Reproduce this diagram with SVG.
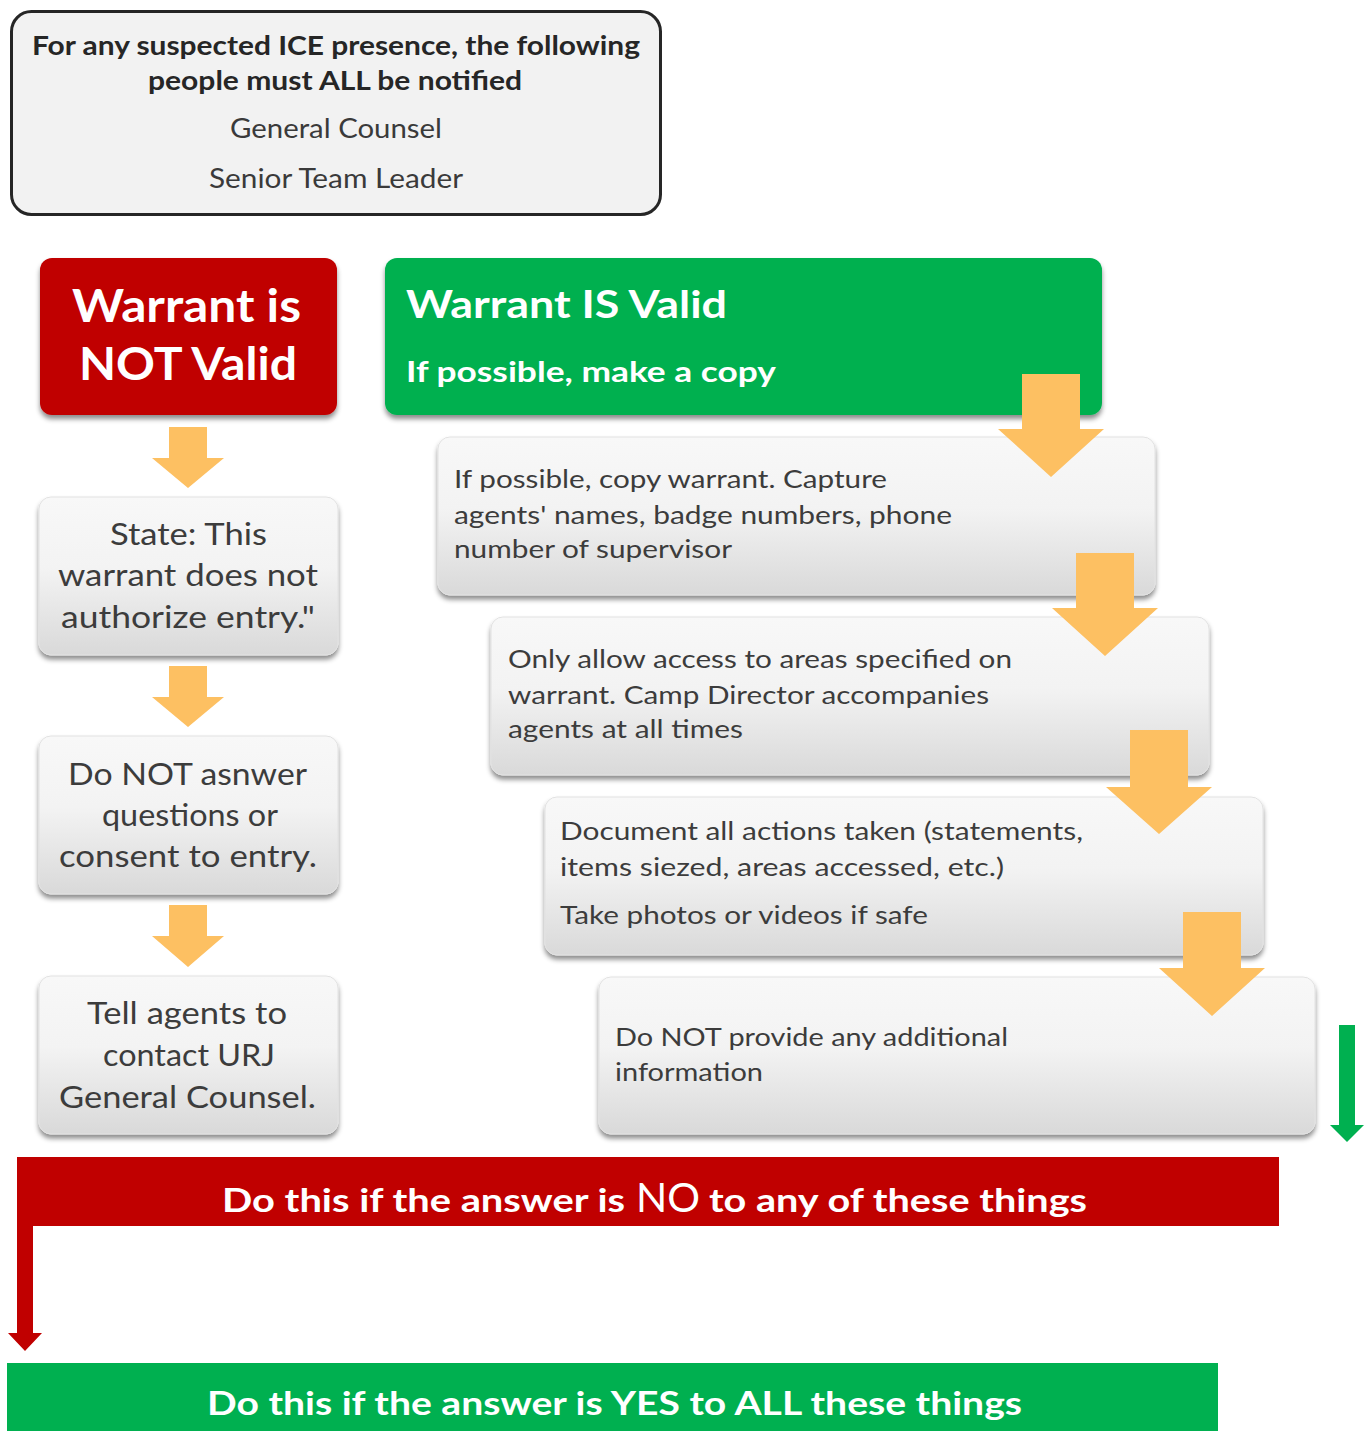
<svg xmlns="http://www.w3.org/2000/svg" width="1364" height="1431" viewBox="0 0 1364 1431">
<defs>
<linearGradient id="gb" x1="0" y1="0" x2="0" y2="1">
<stop offset="0" stop-color="#f8f8f8"/>
<stop offset="0.45" stop-color="#f3f3f3"/>
<stop offset="1" stop-color="#d9d9d9"/>
</linearGradient>
<filter id="sh" x="-5%" y="-10%" width="110%" height="125%">
<feDropShadow dx="0" dy="4" stdDeviation="2.5" flood-color="#000" flood-opacity="0.45"/>
</filter>
<style>
text{font-family:Lato,"Liberation Sans",sans-serif}
.g{fill:url(#gb);stroke:#e2e2e2;stroke-width:1}
.gt{font-size:31px;fill:#3c3c3c;text-anchor:start}
.rt{font-size:25px;fill:#3c3c3c}
.w{fill:#fff;font-weight:bold}
.or{fill:#fdc062}
</style>
</defs>
<rect width="1364" height="1431" fill="#fff"/>

<g id="notify">
<rect x="11.5" y="11.5" width="649" height="203" rx="20" fill="#f2f2f2" stroke="#262626" stroke-width="3"/>
<text x="32" y="55" font-size="26" font-weight="bold" fill="#262626" textLength="608" lengthAdjust="spacingAndGlyphs">For any suspected ICE presence, the following</text>
<text x="148" y="90" font-size="26" font-weight="bold" fill="#262626" textLength="374" lengthAdjust="spacingAndGlyphs">people must ALL be notified</text>
<text x="230" y="138" font-size="26" fill="#3a3a3a" textLength="212" lengthAdjust="spacingAndGlyphs">General Counsel</text>
<text x="209" y="188" font-size="26" fill="#3a3a3a" textLength="254" lengthAdjust="spacingAndGlyphs">Senior Team Leader</text>
</g>

<g id="not-valid">
<rect x="40" y="258" width="297" height="157" rx="12" fill="#c00000" filter="url(#sh)"/>
<text class="w" x="72" y="322" font-size="46" textLength="229" lengthAdjust="spacingAndGlyphs">Warrant is</text>
<text class="w" x="79" y="380" font-size="46" textLength="218" lengthAdjust="spacingAndGlyphs">NOT Valid</text>
</g>

<g id="is-valid">
<rect x="385" y="258" width="717" height="157" rx="12" fill="#00b050" filter="url(#sh)"/>
<text class="w" x="406" y="318" font-size="38" textLength="321" lengthAdjust="spacingAndGlyphs">Warrant IS Valid</text>
<text class="w" x="406" y="382" font-size="28" textLength="370" lengthAdjust="spacingAndGlyphs">If possible, make a copy</text>
</g>

<g id="state">
<rect class="g" x="39" y="497" width="299" height="158" rx="12" filter="url(#sh)"/>
<text class="gt" x="110" y="545" textLength="157" lengthAdjust="spacingAndGlyphs">State: This</text>
<text class="gt" x="58" y="586" textLength="260" lengthAdjust="spacingAndGlyphs">warrant does not</text>
<text class="gt" x="61" y="628" textLength="254" lengthAdjust="spacingAndGlyphs">authorize entry."</text>
</g>

<g id="do-not-answer">
<rect class="g" x="39" y="736" width="299" height="158" rx="12" filter="url(#sh)"/>
<text class="gt" x="68" y="785" textLength="239" lengthAdjust="spacingAndGlyphs">Do NOT asnwer</text>
<text class="gt" x="102" y="826" textLength="176" lengthAdjust="spacingAndGlyphs">questions or</text>
<text class="gt" x="59" y="867" textLength="258" lengthAdjust="spacingAndGlyphs">consent to entry.</text>
</g>

<g id="tell-agents">
<rect class="g" x="39" y="976" width="299" height="158" rx="12" filter="url(#sh)"/>
<text class="gt" x="87" y="1024" textLength="200" lengthAdjust="spacingAndGlyphs">Tell  agents to</text>
<text class="gt" x="103" y="1066" textLength="172" lengthAdjust="spacingAndGlyphs">contact URJ</text>
<text class="gt" x="59" y="1108" textLength="257" lengthAdjust="spacingAndGlyphs">General Counsel.</text>
</g>

<g id="copy-warrant">
<rect class="g" x="438" y="437" width="717" height="158" rx="12" filter="url(#sh)"/>
<text class="rt" x="454" y="488" textLength="433" lengthAdjust="spacingAndGlyphs">If possible, copy warrant.  Capture</text>
<text class="rt" x="454" y="524" textLength="498" lengthAdjust="spacingAndGlyphs">agents' names, badge numbers,  phone</text>
<text class="rt" x="454" y="558" textLength="278" lengthAdjust="spacingAndGlyphs">number  of supervisor</text>
</g>

<g id="only-allow">
<rect class="g" x="491" y="617" width="718" height="158" rx="12" filter="url(#sh)"/>
<text class="rt" x="508" y="668" textLength="504" lengthAdjust="spacingAndGlyphs">Only allow access to areas specified on</text>
<text class="rt" x="508" y="704" textLength="481" lengthAdjust="spacingAndGlyphs">warrant.  Camp Director accompanies</text>
<text class="rt" x="508" y="738" textLength="235" lengthAdjust="spacingAndGlyphs">agents at all times</text>
</g>

<g id="document">
<rect class="g" x="545" y="797" width="718" height="158" rx="12" filter="url(#sh)"/>
<text class="rt" x="560" y="840" textLength="523" lengthAdjust="spacingAndGlyphs">Document  all actions taken  (statements,</text>
<text class="rt" x="560" y="876" textLength="444" lengthAdjust="spacingAndGlyphs">items siezed, areas accessed, etc.)</text>
<text class="rt" x="560" y="924" textLength="368" lengthAdjust="spacingAndGlyphs">Take photos or videos if safe</text>
</g>

<g id="do-not-provide">
<rect class="g" x="599" y="977" width="716" height="157" rx="12" filter="url(#sh)"/>
<text class="rt" x="615" y="1046" textLength="393" lengthAdjust="spacingAndGlyphs">Do NOT provide  any additional</text>
<text class="rt" x="615" y="1081" textLength="148" lengthAdjust="spacingAndGlyphs">information</text>
</g>

<g id="no-bar">
<path d="M17 1157 H1279 V1226 H33 V1333 H42 L25 1351 L8 1333 H17 Z" fill="#c00000"/>
<text class="w" x="222" y="1212" font-size="33" textLength="403" lengthAdjust="spacingAndGlyphs">Do this if the answer is</text>
<text x="636" y="1212" font-size="40" fill="#fff" textLength="64" lengthAdjust="spacingAndGlyphs">NO</text>
<text class="w" x="709" y="1212" font-size="33" textLength="378" lengthAdjust="spacingAndGlyphs">to any of these things</text>
</g>

<g id="yes-bar">
<rect x="7" y="1363" width="1211" height="68" fill="#00b050"/>
<text class="w" x="207" y="1415" font-size="33" textLength="815" lengthAdjust="spacingAndGlyphs">Do this if the answer is YES to ALL these things</text>
</g>

<g id="connectors">
<path class="or" d="M169 427 H207 V458 H224 L188 488 L152 458 H169 Z"/>
<path class="or" d="M169 666 H207 V697 H224 L188 727 L152 697 H169 Z"/>
<path class="or" d="M169 905 H207 V936 H224 L188 967 L152 936 H169 Z"/>
<path class="or" d="M1022 374 H1080 V429 H1104 L1051 477 L998 429 H1022 Z"/>
<path class="or" d="M1076 553 H1134 V608 H1158 L1105 656 L1052 608 H1076 Z"/>
<path class="or" d="M1130 730 H1188 V787 H1212 L1159 834 L1106 787 H1130 Z"/>
<path class="or" d="M1183 912 H1241 V968 H1265 L1212 1016 L1159 968 H1183 Z"/>
<path d="M1339 1025 H1355 V1125 H1364 L1347 1142 L1330 1125 H1339 Z" fill="#00b050"/>
</g>
</svg>
